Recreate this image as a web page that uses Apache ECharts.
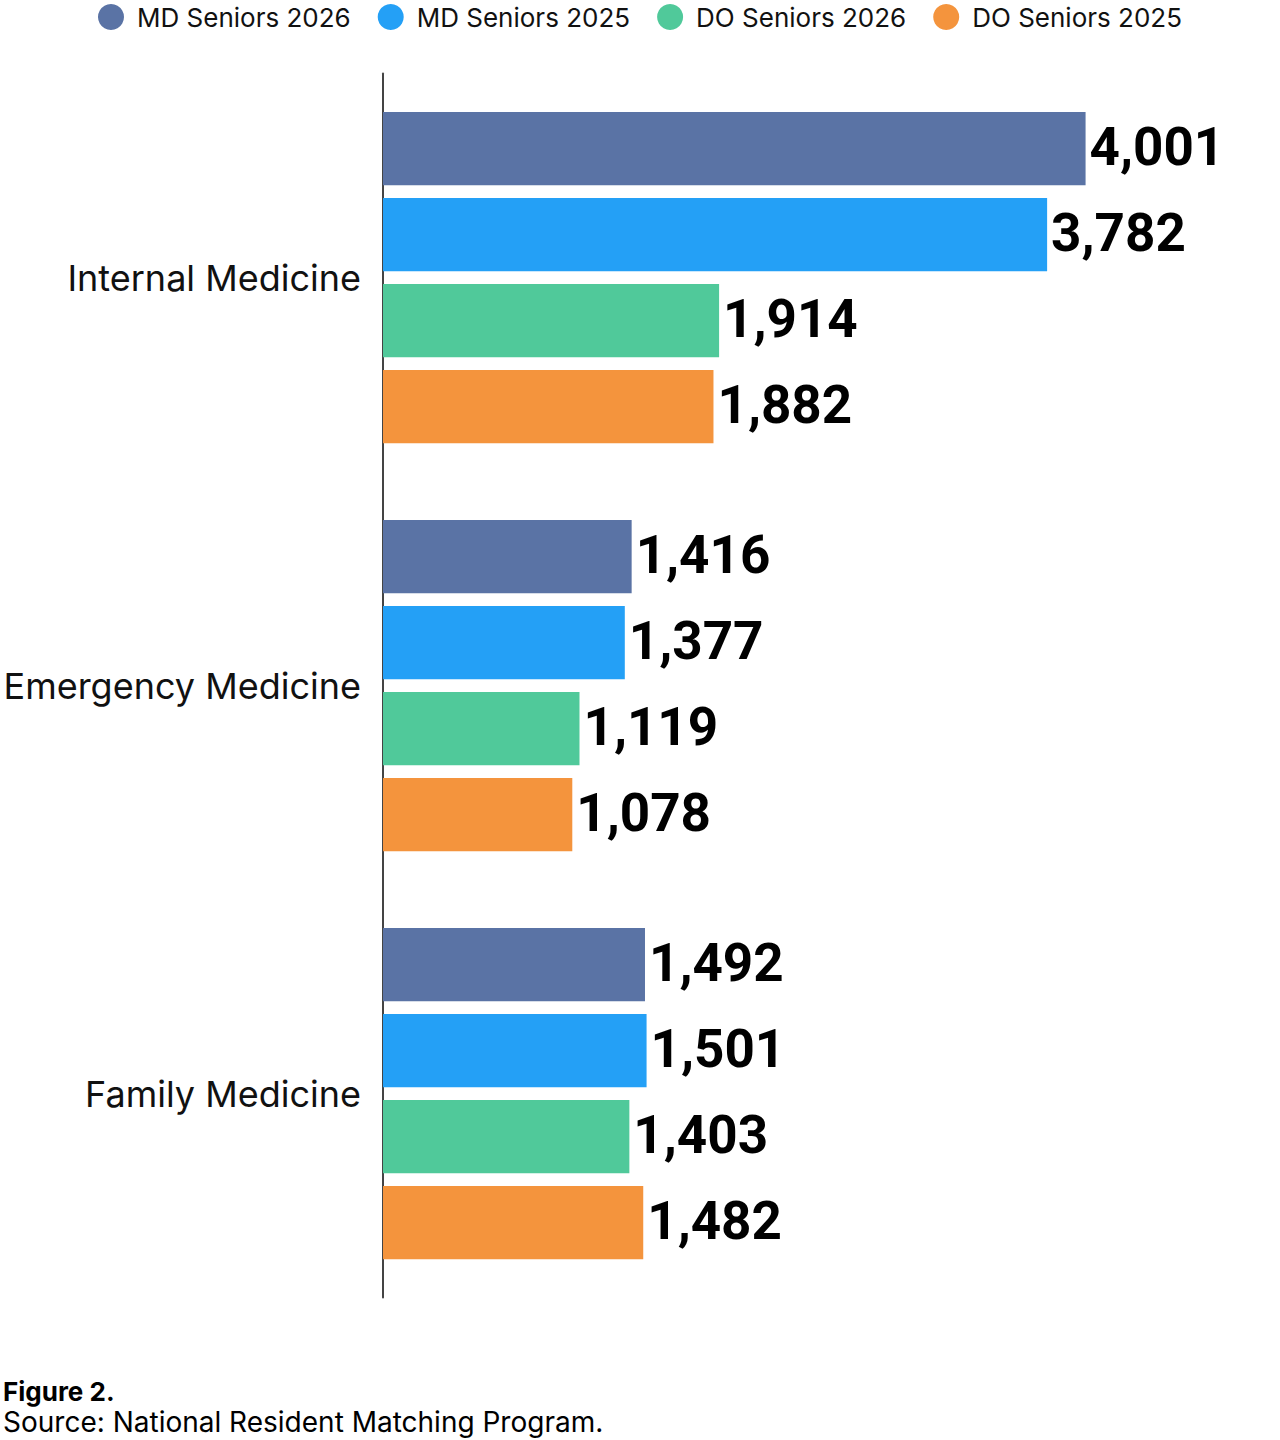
<!DOCTYPE html>
<html>
<head>
<meta charset="utf-8">
<script src="https://cdn.jsdelivr.net/npm/echarts@6/dist/echarts.min.js"></script>
<style>
  html, body { margin: 0; padding: 0; background: #fff; }
  #chart { width: 1280px; height: 1440px; }
</style>
</head>
<body>
<div id="chart"></div>
<script>
const categories = ['Internal Medicine', 'Emergency Medicine', 'Family Medicine'];
const seriesNames = ['MD Seniors 2026', 'MD Seniors 2025', 'DO Seniors 2026', 'DO Seniors 2025'];
const mdSeniors2026 = [4001, 1416, 1492];
const mdSeniors2025 = [3782, 1377, 1501];
const doSeniors2026 = [1914, 1119, 1403];
const doSeniors2025 = [1882, 1078, 1482];
const colors = ['#5a73a5', '#24a0f6', '#50c99a', '#f4943d'];
const footerTitle = 'Figure 2.';
const footerSource = 'Source: National Resident Matching Program.';

const allValues = [mdSeniors2026, mdSeniors2025, doSeniors2026, doSeniors2025];
const FONT = 'Inter, "Noto Sans", sans-serif';
const NUM_FONT = 'Roboto, Inter, sans-serif';

const chart = echarts.init(document.getElementById('chart'), null, { renderer: 'svg' });

const series = seriesNames.map((name, i) => ({
  name: name,
  type: 'bar',
  data: allValues[i],
  itemStyle: { color: colors[i] },
  barGap: '17.3%',
  barCategoryGap: '18.8%',
  label: {
    show: true,
    position: 'right',
    distance: 4,
    offset: [0, -2],
    color: '#000',
    fontFamily: NUM_FONT,
    fontWeight: 'bold',
    fontSize: 53,
    formatter: p => p.value.toLocaleString('en-US')
  },
  emphasis: { disabled: true }
}));

chart.setOption({
  animation: false,
  color: colors,
  textStyle: { fontFamily: FONT },
  legend: {
    top: 4,
    left: 'center',
    padding: 0,
    icon: 'circle',
    itemWidth: 26,
    itemHeight: 26,
    itemGap: 27,
    textStyle: { fontSize: 26, lineHeight: 26, color: '#111', fontFamily: FONT, padding: [0, 0, 0, 8] },
    data: seriesNames
  },
  grid: { left: 383, right: 19, top: 73.6, bottom: 142.4, containLabel: false },
  xAxis: {
    type: 'value',
    min: 0,
    max: 5000,
    show: false
  },
  yAxis: {
    type: 'category',
    inverse: true,
    data: categories,
    axisLine: { show: true, lineStyle: { color: '#444', width: 2 } },
    axisTick: { show: false },
    axisLabel: { fontSize: 36, color: '#111', margin: 22, fontFamily: FONT }
  },
  graphic: [
    {
      type: 'text', left: 3, top: 1378,
      style: { text: footerTitle, fontSize: 26, fontWeight: 'bold', fill: '#000', fontFamily: FONT }
    },
    {
      type: 'text', left: 3, top: 1408,
      style: { text: footerSource, fontSize: 28, fill: '#000', fontFamily: FONT }
    }
  ],
  series: series
});
</script>
</body>
</html>
